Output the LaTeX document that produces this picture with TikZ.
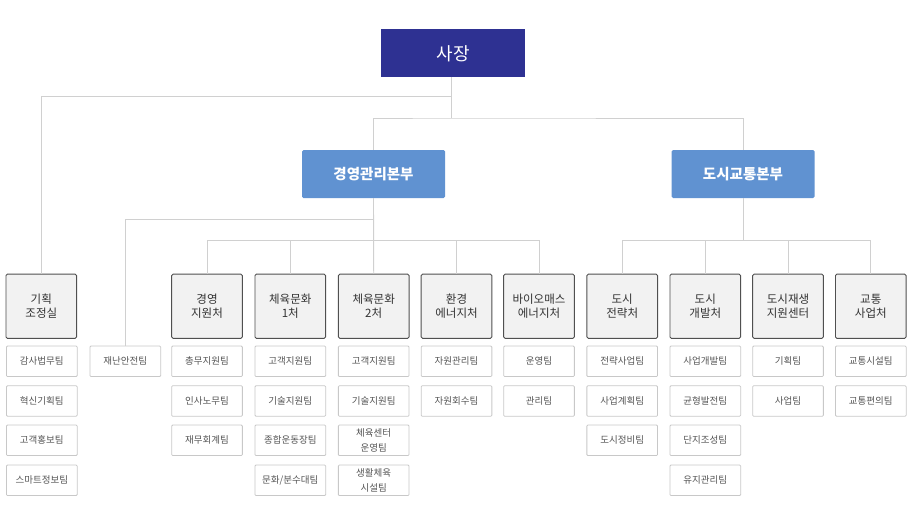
\documentclass[tikz,border=0pt]{standalone}
\usepackage{fontspec}
\setmainfont{Noto Sans CJK KR}
\definecolor{bossfill}{RGB}{46,49,146}
\definecolor{divfill}{RGB}{96,146,209}
\definecolor{deptfill}{RGB}{242,242,242}
\definecolor{deptline}{RGB}{80,80,80}
\definecolor{teamline}{RGB}{200,200,200}
\definecolor{conn}{RGB}{208,208,208}
\definecolor{depttext}{RGB}{51,51,51}
\definecolor{teamtext}{RGB}{85,85,85}
\begin{document}
\begin{tikzpicture}[x=1pt,y=-1pt,
  bossbox/.style={fill=bossfill,text=white,minimum width=144pt,minimum height=48pt,inner sep=0pt,font=\fontsize{18}{22}\selectfont},
  divbox/.style={fill=divfill,text=white,rounded corners=1.5pt,minimum width=143pt,minimum height=48pt,inner sep=0pt,font=\fontsize{14.5}{17}\selectfont\bfseries},
  deptbox/.style={fill=deptfill,draw=deptline,line width=0.9pt,rounded corners=1.5pt,minimum width=70.7pt,minimum height=64.3pt,inner sep=0pt,align=center,text=depttext,font=\fontsize{11.5}{14.5}\selectfont},
  teambox/.style={fill=white,draw=teamline,line width=0.8pt,rounded corners=1pt,minimum width=70.7pt,minimum height=30.5pt,inner sep=0pt,align=center,text=teamtext,font=\fontsize{9.5}{14.5}\selectfont},
  connline/.style={draw=conn,line width=0.9pt}]
\useasboundingbox (0,0) rectangle (917,512);
% top levels
\node[bossbox] (boss) at (453,53.3) {사장};
\node[divbox] (div1) at (373.5,174) {경영관리본부};
\node[divbox] (div2) at (743,174) {도시교통본부};
% departments
\node[deptbox] (d1) at (41.3,306.2) {기획\\조정실};
\node[deptbox] (d3) at (207,306.2) {경영\\지원처};
\node[deptbox] (d4) at (290.3,306.2) {체육문화\\1처};
\node[deptbox] (d5) at (373.7,306.2) {체육문화\\2처};
\node[deptbox] (d6) at (456.5,306.2) {환경\\에너지처};
\node[deptbox] (d7) at (539,306.2) {바이오매스\\에너지처};
\node[deptbox] (d8) at (622.2,306.2) {도시\\전략처};
\node[deptbox] (d9) at (705.3,306.2) {도시\\개발처};
\node[deptbox] (d10) at (788,306.2) {도시재생\\지원센터};
\node[deptbox] (d11) at (870.8,306.2) {교통\\사업처};
% teams
\node[teambox] (t1a) at (41.8,361.3) {감사법무팀};
\node[teambox] (t1b) at (41.8,401) {혁신기획팀};
\node[teambox] (t1c) at (41.8,440.3) {고객홍보팀};
\node[teambox] (t1d) at (41.8,480.3) {스마트정보팀};
\node[teambox] (t2a) at (125.3,361.3) {재난안전팀};
\node[teambox] (t3a) at (207,361.3) {총무지원팀};
\node[teambox] (t3b) at (207,401) {인사노무팀};
\node[teambox] (t3c) at (207,440.3) {재무회계팀};
\node[teambox] (t4a) at (290.3,361.3) {고객지원팀};
\node[teambox] (t4b) at (290.3,401) {기술지원팀};
\node[teambox] (t4c) at (290.3,440.3) {종합운동장팀};
\node[teambox] (t4d) at (290.3,480.3) {문화/분수대팀};
\node[teambox] (t5a) at (373.7,361.3) {고객지원팀};
\node[teambox] (t5b) at (373.7,401) {기술지원팀};
\node[teambox] (t5c) at (373.7,440.3) {체육센터\\운영팀};
\node[teambox] (t5d) at (373.7,480.3) {생활체육\\시설팀};
\node[teambox] (t6a) at (456.5,361.3) {자원관리팀};
\node[teambox] (t6b) at (456.5,401) {자원회수팀};
\node[teambox] (t7a) at (539,361.3) {운영팀};
\node[teambox] (t7b) at (539,401) {관리팀};
\node[teambox] (t8a) at (622.2,361.3) {전략사업팀};
\node[teambox] (t8b) at (622.2,401) {사업계획팀};
\node[teambox] (t8c) at (622.2,440.3) {도시정비팀};
\node[teambox] (t9a) at (705.3,361.3) {사업개발팀};
\node[teambox] (t9b) at (705.3,401) {균형발전팀};
\node[teambox] (t9c) at (705.3,440.3) {단지조성팀};
\node[teambox] (t9d) at (705.3,480.3) {유지관리팀};
\node[teambox] (t10a) at (788,361.3) {기획팀};
\node[teambox] (t10b) at (788,401) {사업팀};
\node[teambox] (t11a) at (870.8,361.3) {교통시설팀};
\node[teambox] (t11b) at (870.8,401) {교통편의팀};
% junction coordinates
\coordinate (jboss) at (451,77.3);
\coordinate (j96) at (451,96);
\coordinate (j118) at (451,118);
\coordinate (j219) at (372.5,219.3);
\coordinate (j240a) at (372.5,240.3);
\coordinate (j240b) at (743,240.3);
% connectors
\draw[connline] (jboss) -- (j118);
\draw[connline] (d1.north) |- (j96);
\draw[connline] (div1.north) |- (j118) -| (div2.north);
\draw[connline] (div1.south) -- (d5.north);
\draw[connline] (t2a.north) |- (j219);
\draw[connline] (d3.north) |- (j240a) -| (d7.north);
\draw[connline] (d4.north) -- (d4.north |- j240a);
\draw[connline] (d6.north) -- (d6.north |- j240a);
\draw[connline] (div2.south) -- (j240b);
\draw[connline] (d8.north) |- (j240b) -| (d11.north);
\draw[connline] (d9.north) -- (d9.north |- j240b);
\draw[connline] (d10.north) -- (d10.north |- j240b);
\end{tikzpicture}
\end{document}
